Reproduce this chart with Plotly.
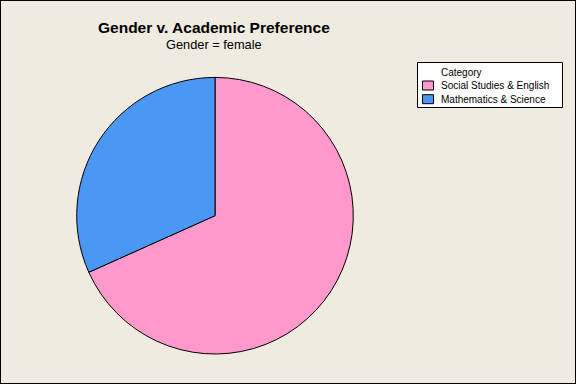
import plotly.graph_objects as go

categories = ["Social Studies & English", "Mathematics & Science"]
counts = [28, 13]
colors = ["#FF99CC", "#4A98F3"]
legend_title = "Category"
title = "Gender v. Academic Preference"
subtitle = "Gender = female"

W, H = 576, 384
cx, cy, r = 215, 215.7, 138.3


def px(x):
    return x / W


def py(y):
    return 1 - y / H


fig = go.Figure(go.Pie(
    labels=categories,
    values=counts,
    sort=False,
    direction="clockwise",
    rotation=0,
    marker=dict(colors=colors, line=dict(color="black", width=1)),
    textinfo="none",
    hoverinfo="label+value+percent",
    domain=dict(x=[px(cx - r), px(cx + r)], y=[py(cy + r), py(cy - r)]),
    showlegend=False,
))

shapes = [
    dict(type="rect", xref="paper", yref="paper", x0=0, y0=0, x1=1, y1=1,
         line=dict(color="black", width=2)),
    dict(type="rect", xref="paper", yref="paper", x0=px(417.5), x1=px(562.5),
         y0=py(107.5), y1=py(62.5), fillcolor="white", line=dict(color="black", width=1)),
]
annotations = [
    dict(text="<b>" + title + "</b>", x=px(214), y=py(27.5),
         xref="paper", yref="paper", showarrow=False, font=dict(size=15.5),
         xanchor="center", yanchor="middle"),
    dict(text=subtitle, x=px(214), y=py(44), xref="paper", yref="paper",
         showarrow=False, font=dict(size=12.8), xanchor="center", yanchor="middle"),
    dict(text=legend_title, x=px(439), y=py(72), xref="paper", yref="paper",
         showarrow=False, font=dict(size=10), xanchor="left", yanchor="middle"),
]
row_y = [85.5, 99.2]
for cat, col, yc in zip(categories, colors, row_y):
    shapes.append(dict(type="rect", xref="paper", yref="paper",
                       x0=px(422.5), x1=px(433.5), y0=py(yc + 4.5), y1=py(yc - 4.5),
                       fillcolor=col, line=dict(color="black", width=1)))
    annotations.append(dict(text=cat, x=px(439), y=py(yc), xref="paper", yref="paper",
                            showarrow=False, font=dict(size=10),
                            xanchor="left", yanchor="middle"))

fig.update_layout(
    width=W, height=H,
    margin=dict(l=0, r=0, t=0, b=0),
    paper_bgcolor="#EFEBE1",
    font=dict(family="Liberation Sans, Arial, sans-serif", color="black", size=11),
    showlegend=False,
    annotations=annotations,
    shapes=shapes,
)

fig.write_html("out.html", config={"displayModeBar": False},
               post_script="document.body.style.margin='0px';document.body.style.overflow='hidden';")
